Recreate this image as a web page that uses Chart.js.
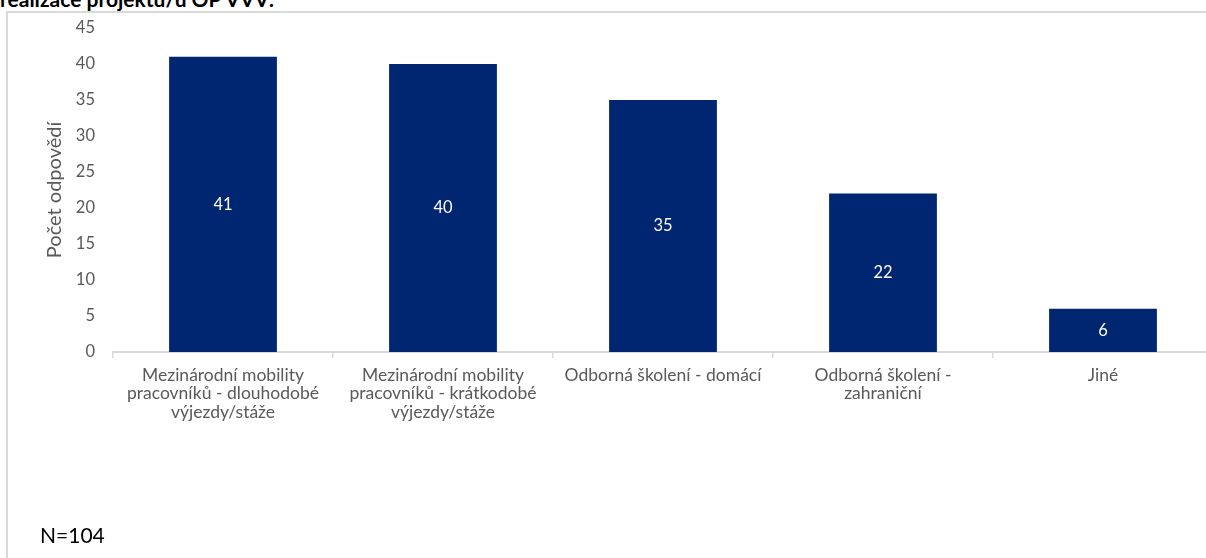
<!DOCTYPE html>
<html>
<head>
<meta charset="utf-8">
<script src="https://cdn.jsdelivr.net/npm/chart.js@4.4.0/dist/chart.umd.min.js"></script>
<style>
  html, body { margin: 0; padding: 0; background: #fff; overflow: hidden; }
  body { width: 1206px; height: 558px; position: relative; font-family: Lato, "Open Sans", sans-serif; }
  #nadpis { position: absolute; left: 0; top: -14px; font-weight: bold; font-size: 21px; color: #000; white-space: nowrap; }
  #ramecek { position: absolute; left: 6px; top: 11px; width: 1250px; height: 600px; border: 2px solid #d9d9d9; }
  #graf { position: absolute; left: 0; top: 0; }
  #pocet { position: absolute; left: 40px; top: 522px; font-size: 21px; color: #000; }
</style>
</head>
<body>
<div id="nadpis">realizace projektu/ů OP VVV:</div>
<div id="ramecek"></div>
<canvas id="graf" width="1220" height="558"></canvas>
<div id="pocet">N=104</div>
<script>
// kategorie a počty odpovědí
const kategorie = [
    ['Mezinárodní mobility', 'pracovníků - dlouhodobé', 'výjezdy/stáže'],
    ['Mezinárodní mobility', 'pracovníků - krátkodobé', 'výjezdy/stáže'],
    'Odborná školení - domácí',
    ['Odborná školení -', 'zahraniční'],
    'Jiné',
];
const odpovedi = [41, 40, 35, 22, 6];
const osaY = { min: 0, max: 45, krok: 5 };

// popisky hodnot uprostřed sloupců
const popiskyHodnot = {
    id: 'popiskyHodnot',
    afterDatasetsDraw(chart) {
        const ctx = chart.ctx;
        const meta = chart.getDatasetMeta(0);
        ctx.save();
        ctx.fillStyle = '#ffffff';
        ctx.font = '16.5px Lato';
        ctx.textAlign = 'center';
        ctx.textBaseline = 'middle';
        meta.data.forEach((bar, i) => {
            ctx.fillText(String(odpovedi[i]), bar.x, (bar.y + bar.base) / 2);
        });
        ctx.restore();
    }
};

const ctx = document.getElementById('graf').getContext('2d');
new Chart(ctx, {
    type: 'bar',
    data: {
        labels: kategorie,
        datasets: [{
            label: 'Počet odpovědí',
            data: odpovedi,
            backgroundColor: '#002672',
            borderWidth: 0,
            categoryPercentage: 1,
            barPercentage: 0.49,
        }]
    },
    options: {
        responsive: false,
        animation: false,
        layout: { padding: { top: 23, right: 7, bottom: 0, left: 0 } },
        plugins: {
            legend: { display: false },
            tooltip: { enabled: false },
        },
        scales: {
            x: {
                grid: {
                    display: true,
                    drawOnChartArea: false,
                    drawTicks: true,
                    tickLength: 6,
                    color: '#d9d9d9',
                    lineWidth: 1.5,
                },
                border: { display: true, color: '#d9d9d9', width: 2 },
                ticks: {
                    color: '#595959',
                    font: { family: 'Lato', size: 17.5, lineHeight: 1.05 },
                    padding: 8,
                    maxRotation: 0,
                    autoSkip: false,
                },
                afterFit(scale) { scale.height = 206; },
            },
            y: {
                min: osaY.min,
                max: osaY.max,
                grid: { display: false, drawTicks: false },
                border: { display: false },
                ticks: {
                    stepSize: osaY.krok,
                    color: '#595959',
                    font: { family: 'Lato', size: 16.5 },
                    padding: 18,
                },
                title: {
                    display: true,
                    text: 'Počet odpovědí',
                    color: '#595959',
                    font: { family: 'Lato', size: 20 },
                    padding: { top: 43, bottom: 0 },
                },
                afterFit(scale) { scale.width = 113; },
            }
        }
    },
    plugins: [popiskyHodnot]
});
</script>
</body>
</html>
